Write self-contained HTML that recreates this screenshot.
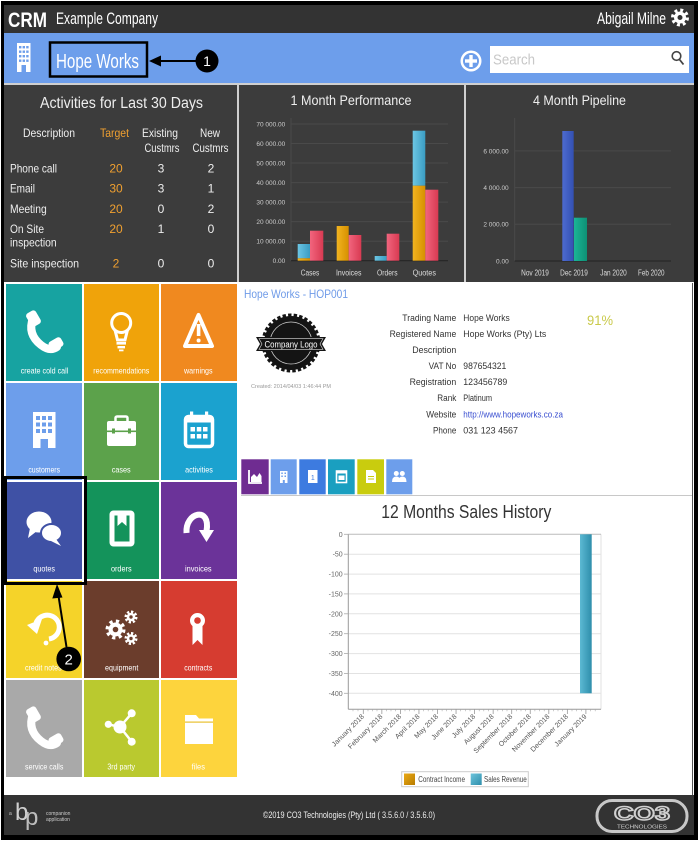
<!DOCTYPE html>
<html><head><meta charset="utf-8"><style>
html,body{margin:0;padding:0;background:#000;width:699px;height:841px;overflow:hidden}
svg{display:block}
text{font-family:"Liberation Sans",Arial,sans-serif}
</style></head><body>
<svg width="699" height="841" viewBox="0 0 699 841" xmlns="http://www.w3.org/2000/svg">
<defs>
<linearGradient id="gB" x1="0" x2="1" y1="0" y2="0"><stop offset="0" stop-color="#6cc6e4"/><stop offset="1" stop-color="#3a9cc2"/></linearGradient>
<linearGradient id="gO" x1="0" x2="1" y1="0" y2="0"><stop offset="0" stop-color="#f2b420"/><stop offset="1" stop-color="#d69000"/></linearGradient>
<linearGradient id="gR" x1="0" x2="1" y1="0" y2="0"><stop offset="0" stop-color="#f2657e"/><stop offset="1" stop-color="#d93a52"/></linearGradient>
<linearGradient id="gPB" x1="0" x2="1" y1="0" y2="0"><stop offset="0" stop-color="#4d6bd0"/><stop offset="1" stop-color="#3350b2"/></linearGradient>
<linearGradient id="gPG" x1="0" x2="1" y1="0" y2="0"><stop offset="0" stop-color="#1bb596"/><stop offset="1" stop-color="#0e9075"/></linearGradient>
<linearGradient id="gS" x1="0" x2="1" y1="0" y2="0"><stop offset="0" stop-color="#5cb9d3"/><stop offset="1" stop-color="#2e8eab"/></linearGradient>
<linearGradient id="gLO" x1="0" x2="1" y1="0" y2="1"><stop offset="0" stop-color="#eaa814"/><stop offset="1" stop-color="#b87c00"/></linearGradient>
<linearGradient id="gLB" x1="0" x2="1" y1="0" y2="1"><stop offset="0" stop-color="#6cc4dc"/><stop offset="1" stop-color="#2e8eab"/></linearGradient>
</defs>

<!-- outer frame -->
<rect x="0" y="0" width="699" height="841" fill="#000"/>
<rect x="0.5" y="0.5" width="698" height="840" fill="none" stroke="#fff" stroke-width="1"/>
<rect x="4" y="5" width="690" height="830" fill="#fff"/>

<!-- top header -->
<rect x="4" y="5" width="690" height="28" fill="#333"/>
<text x="8" y="27" font-size="21" font-weight="bold" fill="#fff" textLength="39" lengthAdjust="spacingAndGlyphs">CRM</text>
<text x="56" y="24" font-size="16.5" fill="#fff" textLength="102" lengthAdjust="spacingAndGlyphs">Example Company</text>
<text x="597" y="24" font-size="16.5" fill="#fff" textLength="69" lengthAdjust="spacingAndGlyphs">Abigail Milne</text>
<circle cx="680" cy="17.5" r="7" fill="none" stroke="#fff" stroke-width="4" stroke-dasharray="2.75 2.75"/>
<circle cx="680" cy="17.5" r="6" fill="#fff"/>
<circle cx="680" cy="17.5" r="2.5" fill="#333"/>

<!-- blue bar -->
<rect x="4" y="33" width="690" height="50" fill="#6d9eeb"/>
<rect x="17" y="43" width="13.5" height="29" fill="#fff"/>
<g fill="#6d9eeb">
<rect x="19" y="46" width="2.4" height="2.4"/><rect x="22.6" y="46" width="2.4" height="2.4"/><rect x="26.2" y="46" width="2.4" height="2.4"/>
<rect x="19" y="50.5" width="2.4" height="2.4"/><rect x="22.6" y="50.5" width="2.4" height="2.4"/><rect x="26.2" y="50.5" width="2.4" height="2.4"/>
<rect x="19" y="55" width="2.4" height="2.4"/><rect x="22.6" y="55" width="2.4" height="2.4"/><rect x="26.2" y="55" width="2.4" height="2.4"/>
<rect x="19" y="59.5" width="2.4" height="2.4"/><rect x="22.6" y="59.5" width="2.4" height="2.4"/><rect x="26.2" y="59.5" width="2.4" height="2.4"/>
<rect x="21.5" y="65" width="4.5" height="7"/>
</g>
<rect x="50" y="42.5" width="97" height="34" fill="none" stroke="#000" stroke-width="2.5"/>
<text x="56" y="68" font-size="20.5" fill="#fff" textLength="83" lengthAdjust="spacingAndGlyphs">Hope Works</text>
<line x1="158" y1="61" x2="197" y2="61" stroke="#000" stroke-width="2"/>
<polygon points="149,61 161,55.5 161,66.5" fill="#000"/>
<circle cx="207" cy="61" r="11.5" fill="#000"/>
<text x="207" y="66" font-size="14" fill="#fff" text-anchor="middle">1</text>
<circle cx="471" cy="61" r="10.5" fill="#fff"/>
<circle cx="471" cy="61" r="8" fill="#6d9eeb"/>
<rect x="465" y="59.3" width="12" height="3.4" fill="#fff"/><rect x="469.3" y="55" width="3.4" height="12" fill="#fff"/>
<rect x="490" y="46" width="199" height="27" fill="#fff"/>
<text x="493" y="64.5" font-size="15" fill="#c8c8c8" textLength="42" lengthAdjust="spacingAndGlyphs">Search</text>
<circle cx="676.5" cy="56" r="4.3" fill="none" stroke="#444" stroke-width="1.6"/>
<line x1="679.5" y1="59.5" x2="683.5" y2="64.5" stroke="#444" stroke-width="1.8"/>
<rect x="4" y="83" width="690" height="2" fill="#d0d0d0"/>

<!-- dark panels -->
<rect x="4" y="85" width="690" height="197" fill="#cfcfcf"/>
<rect x="4" y="85" width="233" height="197" fill="#3c3c3c"/>
<rect x="239" y="85" width="225" height="197" fill="#3c3c3c"/>
<rect x="466" y="85" width="228" height="197" fill="#3c3c3c"/>

<!-- Activities -->
<text x="40" y="108" font-size="15.5" fill="#eee" textLength="163" lengthAdjust="spacingAndGlyphs">Activities for Last 30 Days</text>
<g font-size="12" fill="#eee">
<text x="23" y="137" textLength="52" lengthAdjust="spacingAndGlyphs">Description</text>
<text x="100" y="137" textLength="29" lengthAdjust="spacingAndGlyphs" fill="#f0a030">Target</text>
<text x="160" y="137" textLength="36" lengthAdjust="spacingAndGlyphs" text-anchor="middle">Existing</text>
<text x="162" y="152" textLength="35" lengthAdjust="spacingAndGlyphs" text-anchor="middle">Custmrs</text>
<text x="210" y="137" textLength="20" lengthAdjust="spacingAndGlyphs" text-anchor="middle">New</text>
<text x="210.5" y="152" textLength="36" lengthAdjust="spacingAndGlyphs" text-anchor="middle">Custmrs</text>
<text x="10" y="172.6" textLength="47" lengthAdjust="spacingAndGlyphs">Phone call</text>
<text x="10" y="192.6" textLength="25" lengthAdjust="spacingAndGlyphs">Email</text>
<text x="10" y="213" textLength="36.7" lengthAdjust="spacingAndGlyphs">Meeting</text>
<text x="10" y="233" textLength="34" lengthAdjust="spacingAndGlyphs">On Site</text>
<text x="10" y="246.5" textLength="46.7" lengthAdjust="spacingAndGlyphs">inspection</text>
<text x="10" y="267.5" textLength="69" lengthAdjust="spacingAndGlyphs">Site inspection</text>
</g>
<g font-size="12" fill="#f0a030" text-anchor="middle">
<text x="116" y="172.6">20</text><text x="116" y="192.6">30</text><text x="116" y="213">20</text><text x="116" y="233">20</text><text x="116" y="267.5">2</text>
</g>
<g font-size="12" fill="#eee" text-anchor="middle">
<text x="161" y="172.6">3</text><text x="161" y="192.6">3</text><text x="161" y="213">0</text><text x="161" y="233">1</text><text x="161" y="267.5">0</text>
<text x="211" y="172.6">2</text><text x="211" y="192.6">1</text><text x="211" y="213">2</text><text x="211" y="233">0</text><text x="211" y="267.5">0</text>
</g>

<!-- 1 Month Performance -->
<text x="351" y="105" font-size="14" fill="#eee" text-anchor="middle" textLength="121" lengthAdjust="spacingAndGlyphs">1 Month Performance</text>
<g stroke="#4a4a4a" stroke-width="1">
<line x1="291" y1="124" x2="448" y2="124"/><line x1="291" y1="143.5" x2="448" y2="143.5"/><line x1="291" y1="163" x2="448" y2="163"/>
<line x1="291" y1="182.6" x2="448" y2="182.6"/><line x1="291" y1="202.1" x2="448" y2="202.1"/><line x1="291" y1="221.6" x2="448" y2="221.6"/>
<line x1="291" y1="241.2" x2="448" y2="241.2"/><line x1="291" y1="118" x2="291" y2="261"/>
</g>
<line x1="291" y1="260.8" x2="448" y2="260.8" stroke="#222" stroke-width="1"/>
<g font-size="6.5" fill="#ccc" text-anchor="end">
<text x="285.3" y="126.4">70 000.00</text><text x="285.3" y="145.9">60 000.00</text><text x="285.3" y="165.4">50 000.00</text>
<text x="285.3" y="185">40 000.00</text><text x="285.3" y="204.5">30 000.00</text><text x="285.3" y="224">20 000.00</text>
<text x="285.3" y="243.6">10 000.00</text><text x="285.3" y="263.1">0.00</text>
</g>
<rect x="297.7" y="244" width="12.3" height="14.3" fill="url(#gB)"/>
<rect x="297.7" y="258.3" width="12.3" height="2.4" fill="url(#gO)"/>
<rect x="310" y="230.7" width="13.3" height="30" fill="url(#gR)"/>
<rect x="336.7" y="226" width="12" height="34.7" fill="url(#gO)"/>
<rect x="348.7" y="235" width="12.6" height="25.7" fill="url(#gR)"/>
<rect x="374.7" y="256" width="12" height="4.7" fill="url(#gB)"/>
<rect x="386.7" y="233.7" width="12.6" height="27" fill="url(#gR)"/>
<rect x="412.7" y="130.7" width="12.6" height="55" fill="url(#gB)"/>
<rect x="412.7" y="185.7" width="12.6" height="75" fill="url(#gO)"/>
<rect x="425.3" y="189.7" width="13" height="71" fill="url(#gR)"/>
<g font-size="8" fill="#ddd" text-anchor="middle">
<text x="310" y="275.5" textLength="18.5" lengthAdjust="spacingAndGlyphs">Cases</text>
<text x="348.7" y="275.5" textLength="25.5" lengthAdjust="spacingAndGlyphs">Invoices</text>
<text x="387.3" y="275.5" textLength="20.5" lengthAdjust="spacingAndGlyphs">Orders</text>
<text x="424.3" y="275.5" textLength="23.3" lengthAdjust="spacingAndGlyphs">Quotes</text>
</g>

<!-- 4 Month Pipeline -->
<text x="579.5" y="105" font-size="14" fill="#eee" text-anchor="middle" textLength="93" lengthAdjust="spacingAndGlyphs">4 Month Pipeline</text>
<g stroke="#4a4a4a" stroke-width="1">
<line x1="514.7" y1="150.9" x2="671" y2="150.9"/><line x1="514.7" y1="187.6" x2="671" y2="187.6"/><line x1="514.7" y1="224.3" x2="671" y2="224.3"/>
<line x1="514.7" y1="118" x2="514.7" y2="261"/>
</g>
<line x1="514.7" y1="261" x2="671" y2="261" stroke="#222" stroke-width="1"/>
<g font-size="6.5" fill="#ccc" text-anchor="end">
<text x="508.7" y="153.3">6 000.00</text><text x="508.7" y="190">4 000.00</text><text x="508.7" y="226.7">2 000.00</text><text x="508.7" y="263.4">0.00</text>
</g>
<rect x="562.3" y="131" width="11.4" height="130" fill="url(#gPB)"/>
<rect x="574" y="217.7" width="13" height="43.3" fill="url(#gPG)"/>
<g font-size="8" fill="#ddd" text-anchor="middle">
<text x="535" y="275.5" textLength="27.7" lengthAdjust="spacingAndGlyphs">Nov 2019</text>
<text x="574" y="275.5" textLength="27.7" lengthAdjust="spacingAndGlyphs">Dec 2019</text>
<text x="613.5" y="275.5" textLength="26.5" lengthAdjust="spacingAndGlyphs">Jan 2020</text>
<text x="651.3" y="275.5" textLength="26.5" lengthAdjust="spacingAndGlyphs">Feb 2020</text>
</g>

<!-- TILES -->
<rect x="6" y="284" width="76" height="97" fill="#17a3a1"/>
<rect x="84" y="284" width="75" height="97" fill="#f0a30a"/>
<rect x="161" y="284" width="76" height="97" fill="#f0891f"/>
<rect x="6" y="383" width="76" height="97" fill="#6d9eeb"/>
<rect x="84" y="383" width="75" height="97" fill="#5ca24b"/>
<rect x="161" y="383" width="76" height="97" fill="#1ba2cf"/>
<rect x="6" y="482" width="76" height="97" fill="#3f51a5"/>
<rect x="84" y="482" width="75" height="97" fill="#14935b"/>
<rect x="161" y="482" width="76" height="97" fill="#6b3399"/>
<rect x="6" y="581" width="76" height="97" fill="#f5d329"/>
<rect x="84" y="581" width="75" height="97" fill="#6b3d2c"/>
<rect x="161" y="581" width="76" height="97" fill="#d63c30"/>
<rect x="6" y="680" width="76" height="97" fill="#a9a9a9"/>
<rect x="84" y="680" width="75" height="97" fill="#bac92f"/>
<rect x="161" y="680" width="76" height="97" fill="#fdd43d"/>

<g font-size="8.5" fill="#fff" text-anchor="middle">
<text x="44.5" y="373.5" textLength="47.6" lengthAdjust="spacingAndGlyphs">create cold call</text>
<text x="121.3" y="373.5" textLength="56" lengthAdjust="spacingAndGlyphs">recommendations</text>
<text x="198.3" y="373.5" textLength="28.7" lengthAdjust="spacingAndGlyphs">warnings</text>
<text x="44.2" y="472.5" textLength="31.7" lengthAdjust="spacingAndGlyphs">customers</text>
<text x="121.2" y="472.5" textLength="19" lengthAdjust="spacingAndGlyphs">cases</text>
<text x="199" y="472.5" textLength="27.7" lengthAdjust="spacingAndGlyphs">activities</text>
<text x="44.2" y="571.5" textLength="21.7" lengthAdjust="spacingAndGlyphs">quotes</text>
<text x="121.3" y="571.5" textLength="20.7" lengthAdjust="spacingAndGlyphs">orders</text>
<text x="198.3" y="571.5" textLength="26.7" lengthAdjust="spacingAndGlyphs">invoices</text>
<text x="43.3" y="670.5" textLength="36.7" lengthAdjust="spacingAndGlyphs">credit notes</text>
<text x="121.7" y="670.5" textLength="33.3" lengthAdjust="spacingAndGlyphs">equipment</text>
<text x="198.3" y="670.5" textLength="28" lengthAdjust="spacingAndGlyphs">contracts</text>
<text x="44.2" y="769.5" textLength="38.3" lengthAdjust="spacingAndGlyphs">service calls</text>
<text x="121.2" y="769.5" textLength="27.7" lengthAdjust="spacingAndGlyphs">3rd party</text>
<text x="198.3" y="769.5" textLength="13.3" lengthAdjust="spacingAndGlyphs">files</text>
</g>

<!-- phone icon (create cold call) -->
<g fill="#fff">
<path d="M33,318 Q27,334 41,345 Q50,352 57,347" stroke="#fff" stroke-width="8" fill="none" stroke-linecap="round"/>
<rect x="28" y="311" width="11" height="15" rx="3" transform="rotate(-30 33.5 318.5)"/>
<rect x="49" y="339" width="14" height="10" rx="3" transform="rotate(-30 56 344)"/>
</g>
<!-- phone icon (service calls) -->
<g fill="#fff">
<path d="M33,714 Q27,730 41,741 Q50,748 57,743" stroke="#fff" stroke-width="8" fill="none" stroke-linecap="round"/>
<rect x="28" y="707" width="11" height="15" rx="3" transform="rotate(-30 33.5 714.5)"/>
<rect x="49" y="735" width="14" height="10" rx="3" transform="rotate(-30 56 740)"/>
</g>
<!-- lightbulb -->
<g fill="none" stroke="#fff" stroke-width="3">
<circle cx="121.2" cy="323" r="9.5"/>
<path d="M115,330 L117.5,340 L125,340 L127.5,330"/>
</g>
<g fill="#fff"><rect x="116.5" y="342" width="9.5" height="2.6"/><rect x="117.5" y="346" width="7.5" height="2.4"/><rect x="119" y="349.5" width="4.5" height="1.8"/></g>
<!-- warning -->
<polygon points="198.5,315 212,346 185,346" fill="none" stroke="#fff" stroke-width="4" stroke-linejoin="round"/>
<rect x="196.8" y="324" width="3.6" height="12" fill="#fff"/><circle cx="198.6" cy="340.5" r="2" fill="#fff"/>
<!-- building -->
<rect x="33" y="412" width="22.5" height="36" fill="#fff"/>
<g fill="#6d9eeb">
<rect x="36" y="416" width="4" height="4"/><rect x="42" y="416" width="4" height="4"/><rect x="48" y="416" width="4" height="4"/>
<rect x="36" y="422.5" width="4" height="4"/><rect x="42" y="422.5" width="4" height="4"/><rect x="48" y="422.5" width="4" height="4"/>
<rect x="36" y="429" width="4" height="4"/><rect x="42" y="429" width="4" height="4"/><rect x="48" y="429" width="4" height="4"/>
<rect x="40.5" y="439" width="7.5" height="9"/>
</g>
<!-- briefcase -->
<rect x="115.5" y="416.5" width="12" height="7" rx="1.5" fill="none" stroke="#fff" stroke-width="2.5"/>
<rect x="107" y="421" width="29" height="25" rx="2" fill="#fff"/>
<rect x="107" y="430.5" width="29" height="1.6" fill="#5ca24b"/>
<rect x="112" y="428.5" width="3" height="5" fill="#5ca24b"/><rect x="128" y="428.5" width="3" height="5" fill="#5ca24b"/>
<!-- calendar -->
<rect x="185.5" y="416.5" width="27" height="30" rx="3" fill="none" stroke="#fff" stroke-width="3.5"/>
<rect x="185.5" y="416.5" width="27" height="6" fill="#fff"/>
<rect x="190" y="411.5" width="3.2" height="7.5" fill="#fff"/><rect x="205" y="411.5" width="3.2" height="7.5" fill="#fff"/>
<g fill="#fff"><rect x="190.5" y="427" width="4.5" height="4.5"/><rect x="196.8" y="427" width="4.5" height="4.5"/><rect x="203" y="427" width="4.5" height="4.5"/>
<rect x="190.5" y="434" width="4.5" height="4.5"/><rect x="196.8" y="434" width="4.5" height="4.5"/><rect x="203" y="434" width="4.5" height="4.5"/></g>
<!-- quotes bubbles -->
<ellipse cx="39" cy="522" rx="12.5" ry="10.5" fill="#fff"/>
<polygon points="30,528 28,538 37,531" fill="#fff"/>
<ellipse cx="51.5" cy="533" rx="10.5" ry="9" fill="#fff" stroke="#3f51a5" stroke-width="2"/>
<polygon points="56,539 61,546 51,541" fill="#fff"/>
<!-- orders book -->
<rect x="112" y="513" width="20" height="31" rx="1.5" fill="none" stroke="#fff" stroke-width="5"/>
<polygon points="117.5,511 126.5,511 126.5,526 122,522 117.5,526" fill="#fff"/>
<!-- invoices arrow -->
<path d="M186.5,533 C185,512 211,506 206.5,531" fill="none" stroke="#fff" stroke-width="6"/>
<polygon points="199,530 214,530 206.5,542" fill="#fff"/>
<!-- credit notes undo -->
<path d="M36,623 A12,12 0 1 1 49,639" fill="none" stroke="#fff" stroke-width="5"/>
<polygon points="27,625 42,619 37,634" fill="#fff"/>
<circle cx="46" cy="643" r="2.4" fill="#fff"/>
<!-- equipment gears -->
<circle cx="115.5" cy="629.5" r="8" fill="none" stroke="#fff" stroke-width="4" stroke-dasharray="3.1 3.2"/>
<circle cx="115.5" cy="629.5" r="7" fill="#fff"/><circle cx="115.5" cy="629.5" r="2.8" fill="#6b3d2c"/>
<circle cx="131" cy="617" r="5" fill="none" stroke="#fff" stroke-width="3" stroke-dasharray="2.2 1.7"/>
<circle cx="131" cy="617" r="4.3" fill="#fff"/><circle cx="131" cy="617" r="1.7" fill="#6b3d2c"/>
<circle cx="131" cy="638.5" r="5" fill="none" stroke="#fff" stroke-width="3" stroke-dasharray="2.2 1.7"/>
<circle cx="131" cy="638.5" r="4.3" fill="#fff"/><circle cx="131" cy="638.5" r="1.7" fill="#6b3d2c"/>
<!-- contracts ribbon -->
<polygon points="192.5,626 202.5,626 202.5,645 197.5,640 192.5,645" fill="#fff"/>
<circle cx="197.5" cy="620.5" r="7.5" fill="#fff"/><circle cx="197.5" cy="620.5" r="3.3" fill="#d63c30"/>
<!-- share -->
<g stroke="#fff" stroke-width="2.5"><line x1="120" y1="727" x2="131.7" y2="713.3"/><line x1="120" y1="727" x2="131.7" y2="741.7"/><line x1="120" y1="727" x2="108.3" y2="724.3"/></g>
<g fill="#fff"><circle cx="120" cy="727" r="6.5"/><circle cx="131.7" cy="713.3" r="4"/><circle cx="131.7" cy="741.7" r="4"/><circle cx="108.3" cy="724.3" r="3.6"/></g>
<!-- folder -->
<polygon points="185,715 196,715 199,718.5 213,718.5 213,744 185,744" fill="#fff"/>
<rect x="185" y="721.5" width="28" height="1.2" fill="#e8c030"/>

<!-- quotes highlight frame + annotation 2 -->
<rect x="5.5" y="477.5" width="80" height="106" fill="none" stroke="#000" stroke-width="3"/>
<line x1="66.5" y1="647" x2="58.5" y2="596" stroke="#000" stroke-width="2"/>
<polygon points="57,584 52.3,598.5 62.5,597.5" fill="#000"/>
<circle cx="68.7" cy="659" r="12.3" fill="#000"/>
<text x="68.7" y="664.5" font-size="15" fill="#fff" text-anchor="middle">2</text>

<!-- right content -->
<text x="244" y="298" font-size="12" fill="#6f9be8" textLength="104" lengthAdjust="spacingAndGlyphs">Hope Works - HOP001</text>
<circle cx="291" cy="343" r="27" fill="#141414" stroke="#141414" stroke-width="5" stroke-dasharray="3.3 2.1"/>
<circle cx="291" cy="343" r="21" fill="none" stroke="#cfcfcf" stroke-width="0.8"/>
<polygon points="256,337 326,337 322,344 326,351 256,351 260,344" fill="#141414"/>
<polygon points="259,338.7 323,338.7 320,344 323,349.3 259,349.3 262,344" fill="none" stroke="#ddd" stroke-width="0.6"/>
<text x="291" y="347.5" font-size="9" fill="#fff" text-anchor="middle" textLength="53" lengthAdjust="spacingAndGlyphs">Company Logo</text>
<text x="251" y="388" font-size="5" fill="#999" textLength="80" lengthAdjust="spacingAndGlyphs">Created: 2014/04/03 1:46:44 PM</text>

<g font-size="9" fill="#333" text-anchor="end">
<text x="456.3" y="320.8" textLength="54" lengthAdjust="spacingAndGlyphs">Trading Name</text>
<text x="456.3" y="336.8" textLength="66.7" lengthAdjust="spacingAndGlyphs">Registered Name</text>
<text x="456.3" y="352.8" textLength="44" lengthAdjust="spacingAndGlyphs">Description</text>
<text x="456.3" y="369" textLength="27.7" lengthAdjust="spacingAndGlyphs">VAT No</text>
<text x="456.3" y="385" textLength="46.7" lengthAdjust="spacingAndGlyphs">Registration</text>
<text x="456.3" y="401" textLength="19" lengthAdjust="spacingAndGlyphs">Rank</text>
<text x="456.3" y="417.3" textLength="30" lengthAdjust="spacingAndGlyphs">Website</text>
<text x="456.3" y="433.3" textLength="23.3" lengthAdjust="spacingAndGlyphs">Phone</text>
</g>
<g font-size="9" fill="#333">
<text x="463.3" y="320.8" textLength="46.4" lengthAdjust="spacingAndGlyphs">Hope Works</text>
<text x="463.3" y="336.8" textLength="83" lengthAdjust="spacingAndGlyphs">Hope Works (Pty) Lts</text>
<text x="463.3" y="369" textLength="43" lengthAdjust="spacingAndGlyphs">987654321</text>
<text x="463.3" y="385" textLength="44" lengthAdjust="spacingAndGlyphs">123456789</text>
<text x="463.3" y="401" textLength="28.7" lengthAdjust="spacingAndGlyphs">Platinum</text>
<text x="463.3" y="417.3" textLength="99.7" lengthAdjust="spacingAndGlyphs" fill="#3a4fd0">http://www.hopeworks.co.za</text>
<text x="463.3" y="433.3" textLength="54.7" lengthAdjust="spacingAndGlyphs">031 123 4567</text>
</g>
<text x="587" y="325" font-size="14" fill="#c9c94a" textLength="26" lengthAdjust="spacingAndGlyphs">91%</text>

<!-- tabs -->
<rect x="241.3" y="459.3" width="27.4" height="35" fill="#6f2c91"/>
<rect x="270.7" y="459.3" width="26" height="35" fill="#6d9eeb"/>
<rect x="299.3" y="459.3" width="26.4" height="35" fill="#3d7be0"/>
<rect x="328" y="459.3" width="26.7" height="35" fill="#1a9fc0"/>
<rect x="357.3" y="459.3" width="26.7" height="35" fill="#c9cc0e"/>
<rect x="386.3" y="459.3" width="26" height="35" fill="#6d9eeb"/>
<path d="M249,470 L249,483 L262,483" fill="none" stroke="#fff" stroke-width="1.8"/>
<polygon points="251,482 251,477 254,474 257,477 259.5,473 261.5,476 261.5,482" fill="#fff"/>
<rect x="280" y="471" width="7.5" height="12" fill="#fff"/>
<g fill="#6d9eeb"><rect x="281.3" y="472.5" width="1.5" height="1.5"/><rect x="284.5" y="472.5" width="1.5" height="1.5"/><rect x="281.3" y="475.5" width="1.5" height="1.5"/><rect x="284.5" y="475.5" width="1.5" height="1.5"/><rect x="282.8" y="480" width="2" height="3"/></g>
<rect x="308" y="470" width="9.5" height="13" fill="#fff"/>
<text x="312.8" y="480" font-size="7" fill="#3d7be0" text-anchor="middle">1</text>
<rect x="336.5" y="471" width="10" height="11.5" fill="none" stroke="#fff" stroke-width="1.6"/>
<rect x="336.5" y="471" width="10" height="2.5" fill="#fff"/>
<rect x="338.5" y="475.5" width="6" height="4.5" fill="#fff"/>
<polygon points="366,470 373,470 376,473 376,483 366,483" fill="#fff"/>
<rect x="368" y="476" width="6" height="1" fill="#c9cc0e"/><rect x="368" y="478.5" width="6" height="1" fill="#c9cc0e"/>
<g fill="#fff"><circle cx="396.3" cy="473.5" r="2.5"/><circle cx="402.3" cy="473.5" r="2.5"/>
<path d="M392,482 Q392,476.5 396.3,476.5 Q400.5,476.5 400.5,482 Z"/><path d="M398.5,482 Q398.5,476.5 402.3,476.5 Q406.5,476.5 406.5,482 Z"/></g>
<line x1="241" y1="495.5" x2="692" y2="495.5" stroke="#c8c8c8" stroke-width="1"/>

<text x="466.3" y="518" font-size="18" fill="#333" text-anchor="middle" textLength="170" lengthAdjust="spacingAndGlyphs">12 Months Sales History</text>

<!-- sales chart -->
<g stroke="#e2e2e2" stroke-width="1">
<line x1="348.3" y1="554.2" x2="601" y2="554.2"/><line x1="348.3" y1="574.1" x2="601" y2="574.1"/>
<line x1="348.3" y1="593.9" x2="601" y2="593.9"/><line x1="348.3" y1="613.8" x2="601" y2="613.8"/>
<line x1="348.3" y1="633.7" x2="601" y2="633.7"/><line x1="348.3" y1="653.6" x2="601" y2="653.6"/>
<line x1="348.3" y1="673.5" x2="601" y2="673.5"/><line x1="348.3" y1="693.3" x2="601" y2="693.3"/>
<line x1="601" y1="534.3" x2="601" y2="709.3"/>
</g>
<line x1="348.3" y1="534.3" x2="601" y2="534.3" stroke="#bbb" stroke-width="1"/>
<line x1="348.3" y1="534.3" x2="348.3" y2="709.3" stroke="#999" stroke-width="1"/>
<line x1="348.3" y1="709.3" x2="601" y2="709.3" stroke="#999" stroke-width="1"/>
<g stroke="#aaa" stroke-width="0.8">
<line x1="344" y1="534.3" x2="348.3" y2="534.3"/><line x1="344" y1="554.2" x2="348.3" y2="554.2"/><line x1="344" y1="574.1" x2="348.3" y2="574.1"/>
<line x1="344" y1="593.9" x2="348.3" y2="593.9"/><line x1="344" y1="613.8" x2="348.3" y2="613.8"/><line x1="344" y1="633.7" x2="348.3" y2="633.7"/>
<line x1="344" y1="653.6" x2="348.3" y2="653.6"/><line x1="344" y1="673.5" x2="348.3" y2="673.5"/><line x1="344" y1="693.3" x2="348.3" y2="693.3"/>
</g>
<g font-size="7" fill="#666" text-anchor="end">
<text x="342.7" y="536.8">0</text><text x="342.7" y="556.7">-50</text><text x="342.7" y="576.6">-100</text>
<text x="342.7" y="596.4">-150</text><text x="342.7" y="616.3">-200</text><text x="342.7" y="636.2">-250</text>
<text x="342.7" y="656.1">-300</text><text x="342.7" y="676">-350</text><text x="342.7" y="695.8">-400</text>
</g>
<rect x="580" y="534.3" width="11.7" height="159" fill="url(#gS)"/>
<g stroke="#999" stroke-width="0.8">
<line x1="363.3" y1="709.3" x2="363.3" y2="714"/><line x1="381.85" y1="709.3" x2="381.85" y2="714"/><line x1="400.4" y1="709.3" x2="400.4" y2="714"/>
<line x1="418.95" y1="709.3" x2="418.95" y2="714"/><line x1="437.5" y1="709.3" x2="437.5" y2="714"/><line x1="456.05" y1="709.3" x2="456.05" y2="714"/>
<line x1="474.6" y1="709.3" x2="474.6" y2="714"/><line x1="493.15" y1="709.3" x2="493.15" y2="714"/><line x1="511.7" y1="709.3" x2="511.7" y2="714"/>
<line x1="530.25" y1="709.3" x2="530.25" y2="714"/><line x1="548.8" y1="709.3" x2="548.8" y2="714"/><line x1="567.35" y1="709.3" x2="567.35" y2="714"/>
<line x1="585.9" y1="709.3" x2="585.9" y2="714"/>
</g>
<path d="M353,709.3v2M358,709.3v2M368,709.3v2M372.5,709.3v2M377,709.3v2M386.5,709.3v2M391,709.3v2M395.7,709.3v2M405,709.3v2M409.6,709.3v2M414.2,709.3v2M423.6,709.3v2M428.2,709.3v2M432.8,709.3v2M442.1,709.3v2M446.7,709.3v2M451.4,709.3v2M460.7,709.3v2M465.3,709.3v2M470,709.3v2M479.2,709.3v2M483.8,709.3v2M488.5,709.3v2M497.8,709.3v2M502.4,709.3v2M507,709.3v2M516.3,709.3v2M521,709.3v2M525.6,709.3v2M534.9,709.3v2M539.5,709.3v2M544.2,709.3v2M553.4,709.3v2M558,709.3v2M562.7,709.3v2M572,709.3v2M576.6,709.3v2M581.3,709.3v2M590.5,709.3v2M595.2,709.3v2" stroke="#aaa" stroke-width="0.6"/>
<g font-size="7" fill="#555" text-anchor="end">
<text x="364.5" y="717" transform="rotate(-45 364.5 717)">January 2018</text>
<text x="383" y="717" transform="rotate(-45 383 717)">February 2018</text>
<text x="401.6" y="717" transform="rotate(-45 401.6 717)">March 2018</text>
<text x="420.1" y="717" transform="rotate(-45 420.1 717)">April 2018</text>
<text x="438.7" y="717" transform="rotate(-45 438.7 717)">May 2018</text>
<text x="457.2" y="717" transform="rotate(-45 457.2 717)">June 2018</text>
<text x="475.8" y="717" transform="rotate(-45 475.8 717)">July 2018</text>
<text x="494.3" y="717" transform="rotate(-45 494.3 717)">August 2018</text>
<text x="512.9" y="717" transform="rotate(-45 512.9 717)">September 2018</text>
<text x="531.4" y="717" transform="rotate(-45 531.4 717)">October 2018</text>
<text x="550" y="717" transform="rotate(-45 550 717)">November 2018</text>
<text x="568.5" y="717" transform="rotate(-45 568.5 717)">December 2018</text>
<text x="587.1" y="717" transform="rotate(-45 587.1 717)">January 2019</text>
</g>
<!-- legend -->
<rect x="401.7" y="771.7" width="126.6" height="15" fill="#fff" stroke="#ccc" stroke-width="1"/>
<rect x="404" y="773.5" width="11" height="11.5" fill="url(#gLO)"/>
<text x="418.3" y="782" font-size="8" fill="#444" textLength="46.7" lengthAdjust="spacingAndGlyphs">Contract Income</text>
<rect x="470.7" y="773.5" width="11" height="11.5" fill="url(#gLB)"/>
<text x="484" y="782" font-size="8" fill="#444" textLength="42.7" lengthAdjust="spacingAndGlyphs">Sales Revenue</text>

<!-- right border line -->
<line x1="692.5" y1="283" x2="692.5" y2="795" stroke="#555" stroke-width="1"/>

<!-- footer -->
<rect x="4" y="795" width="690" height="40" fill="#333"/>
<text x="349" y="818" font-size="9.5" fill="#eee" text-anchor="middle" textLength="172" lengthAdjust="spacingAndGlyphs">©2019 CO3 Technologies (Pty) Ltd ( 3.5.6.0 / 3.5.6.0)</text>
<text x="15" y="820" font-size="24" fill="#cfcfcf">b</text>
<text x="25" y="825" font-size="24" fill="#bdbdbd">p</text>
<text x="9" y="815" font-size="5" fill="#ccc">a</text>
<text x="46" y="815" font-size="5" fill="#ccc">companion</text>
<text x="46" y="821" font-size="5" fill="#ccc">application</text>
<rect x="597" y="800.5" width="90" height="31" rx="15" fill="none" stroke="#c8c8c8" stroke-width="3"/>
<text x="642" y="820" font-size="19" font-weight="bold" fill="none" stroke="#d0d0d0" stroke-width="1.5" text-anchor="middle" textLength="56" lengthAdjust="spacingAndGlyphs">CO3</text>
<text x="642" y="828.3" font-size="5" fill="#cfcfcf" text-anchor="middle" textLength="50" lengthAdjust="spacingAndGlyphs">TECHNOLOGIES</text>
</svg>
</body></html>
